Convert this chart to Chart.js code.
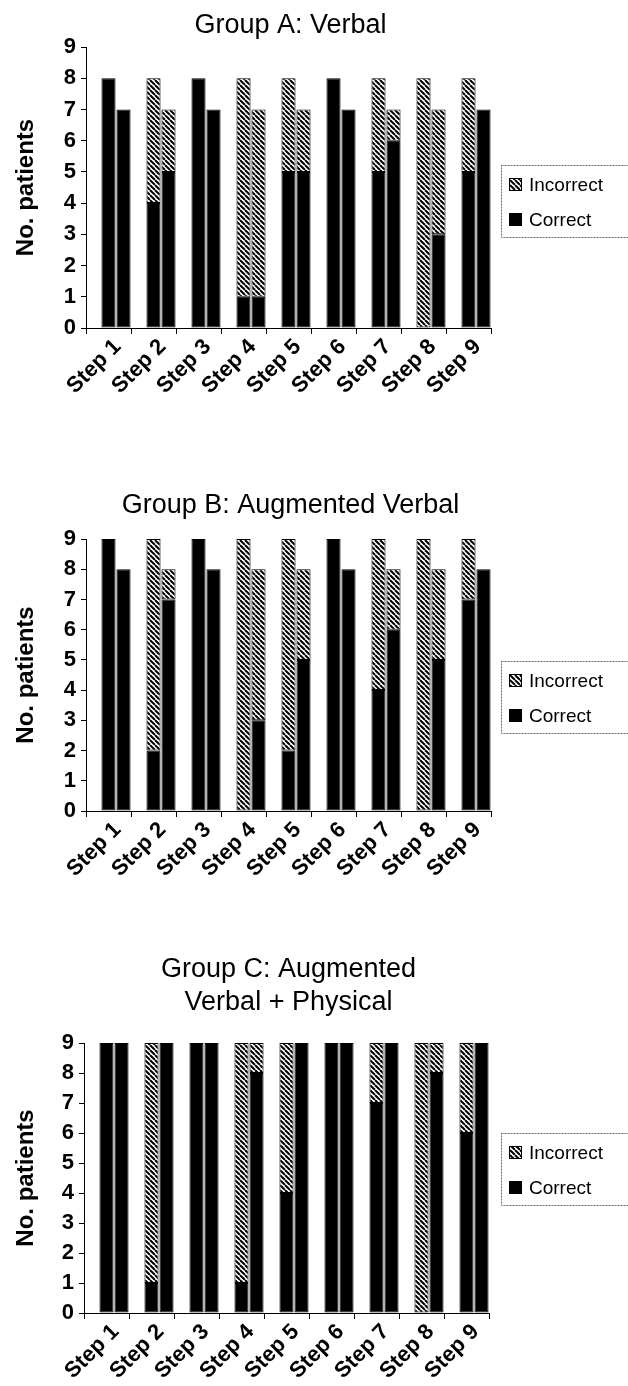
<!DOCTYPE html>
<html>
<head>
<meta charset="utf-8">
<title>Steps by group</title>
<script src="https://cdn.jsdelivr.net/npm/chart.js@4.4.0/dist/chart.umd.min.js"></script>
<style>
  html, body { margin: 0; padding: 0; background: #fff; }
  #page { position: relative; width: 628px; height: 1386px; overflow: hidden; background: #fff; }
  #page canvas { position: absolute; left: 0; }
</style>
</head>
<body>
<div id="page">
  <canvas id="chartA" width="628" height="430" style="top:0px"></canvas>
  <canvas id="chartB" width="628" height="430" style="top:450px"></canvas>
  <canvas id="chartC" width="628" height="466" style="top:920px"></canvas>
</div>
<script>
// Data (first bar / second bar of each step)
const steps = ['Step 1', 'Step 2', 'Step 3', 'Step 4', 'Step 5', 'Step 6', 'Step 7', 'Step 8', 'Step 9'];
const yTicks = [0, 1, 2, 3, 4, 5, 6, 7, 8, 9];

const aCorrect1   = [8, 4, 8, 1, 5, 8, 5, 0, 5];
const aIncorrect1 = [0, 4, 0, 7, 3, 0, 3, 8, 3];
const aCorrect2   = [7, 5, 7, 1, 5, 7, 6, 3, 7];
const aIncorrect2 = [0, 2, 0, 6, 2, 0, 1, 4, 0];

const bCorrect1   = [9, 2, 9, 0, 2, 9, 4, 0, 7];
const bIncorrect1 = [0, 7, 0, 9, 7, 0, 5, 9, 2];
const bCorrect2   = [8, 7, 8, 3, 5, 8, 6, 5, 8];
const bIncorrect2 = [0, 1, 0, 5, 3, 0, 2, 3, 0];

const cCorrect1   = [9, 1, 9, 1, 4, 9, 7, 0, 6];
const cIncorrect1 = [0, 8, 0, 8, 5, 0, 2, 9, 3];
const cCorrect2   = [9, 9, 9, 8, 9, 9, 9, 8, 9];
const cIncorrect2 = [0, 0, 0, 1, 0, 0, 0, 1, 0];

document.addEventListener("DOMContentLoaded", () => {
  Chart.defaults.font.family = '"Liberation Sans", Arial, sans-serif';
  Chart.defaults.color = '#000';

  // diagonal hatch used for "Incorrect"
  function makeHatch() {
    const c = document.createElement('canvas');
    c.width = 5; c.height = 5;
    const g = c.getContext('2d');
    g.fillStyle = '#fff';
    g.fillRect(0, 0, 5, 5);
    g.strokeStyle = '#000';
    g.lineWidth = 2;
    g.beginPath();
    for (const k of [-5, 0, 5]) { g.moveTo(k, 0); g.lineTo(k + 5, 5); }
    g.stroke();
    return g.createPattern(c, 'repeat');
  }
  const hatch = makeHatch();

  // title centred over the plot area
  const areaTitle = {
    id: 'areaTitle',
    afterDraw(chart, args, opts) {
      const ctx = chart.ctx;
      const cx = (chart.chartArea.left + chart.chartArea.right) / 2;
      ctx.save();
      ctx.fillStyle = '#000';
      ctx.font = '27px "Liberation Sans", Arial, sans-serif';
      ctx.textAlign = 'center';
      ctx.textBaseline = 'alphabetic';
      opts.lines.forEach((t, i) => ctx.fillText(t, cx + 2, opts.baselines[i]));
      ctx.restore();
    }
  };

  // boxed legend at the right, Incorrect above Correct
  const boxLegend = {
    id: 'boxLegend',
    afterDraw(chart, args, opts) {
      const ctx = chart.ctx;
      const seen = [];
      chart.data.datasets.forEach(ds => {
        if (ds.label && !seen.find(s => s.label === ds.label)) seen.push(ds);
      });
      seen.reverse();
      ctx.save();
      ctx.strokeStyle = '#666';
      ctx.lineWidth = 1;
      ctx.setLineDash([2, 1]);
      ctx.strokeRect(opts.x + 0.5, opts.y + 0.5, 200, opts.h);
      ctx.setLineDash([]);
      ctx.font = '19px "Liberation Sans", Arial, sans-serif';
      ctx.textBaseline = 'middle';
      seen.forEach((ds, i) => {
        const cy = opts.y + 20 + i * 35;
        ctx.fillStyle = ds.backgroundColor;
        ctx.fillRect(opts.x + 8, cy - 7, 13, 13);
        ctx.strokeStyle = '#000';
        ctx.strokeRect(opts.x + 8.5, cy - 6.5, 12, 12);
        ctx.fillStyle = '#000';
        ctx.fillText(ds.label, opts.x + 28, cy + 1);
      });
      ctx.restore();
    }
  };

  function makeChart(id, lay, correct1, incorrect1, correct2, incorrect2) {
    const bar = { borderColor: '#000', borderWidth: 1, borderSkipped: false, barPercentage: 0.94, categoryPercentage: 1 };
    new Chart(document.getElementById(id), {
      type: 'bar',
      data: {
        labels: steps,
        datasets: [
          // empty slot that pushes each pair to the right of its step, as in the figure
          { ...bar, label: '', data: steps.map(() => null), stack: 'gap', backgroundColor: 'transparent', borderWidth: 0 },
          { ...bar, label: 'Correct', data: correct1, stack: 'first', backgroundColor: '#000' },
          { ...bar, label: 'Incorrect', data: incorrect1, stack: 'first', backgroundColor: hatch },
          { ...bar, label: 'Correct', data: correct2, stack: 'second', backgroundColor: '#000' },
          { ...bar, label: 'Incorrect', data: incorrect2, stack: 'second', backgroundColor: hatch }
        ]
      },
      options: {
        responsive: false,
        animation: false,
        events: [],
        layout: { padding: { top: lay.plotTop - lay.top, right: 628 - lay.right, left: 0, bottom: 0 } },
        plugins: {
          legend: { display: false },
          tooltip: { enabled: false },
          areaTitle: { lines: lay.title, baselines: lay.titleBase.map(b => b - lay.top) },
          boxLegend: { x: 501, y: lay.legendTop - lay.top, h: 72 }
        },
        scales: {
          x: {
            stacked: true,
            afterFit: s => { s.height = lay.top + lay.height - lay.plotBottom; },
            grid: { offset: true, drawOnChartArea: false, drawTicks: true, tickLength: 6, color: '#000' },
            border: { color: '#000', width: 1 },
            ticks: { autoSkip: false, minRotation: 45, maxRotation: 45, padding: 0, labelOffset: 9, color: '#000',
                     font: { size: 22, weight: 'bold' } }
          },
          y: {
            stacked: true,
            min: 0, max: 9,
            afterFit: s => { s.width = lay.left; },
            afterBuildTicks: s => { s.ticks = yTicks.map(v => ({ value: v })); },
            grid: { drawOnChartArea: false, drawTicks: true, tickLength: 5, color: '#000' },
            border: { color: '#000', width: 1 },
            ticks: { padding: 5, color: '#000', font: { size: 22, weight: 'bold' } },
            title: { display: true, text: 'No. patients', color: '#000', padding: { top: 12, bottom: 0 },
                     font: { size: 24, weight: 'bold' } }
          }
        }
      },
      plugins: [areaTitle, boxLegend]
    });
  }

  makeChart('chartA', { top: 0, height: 430, plotTop: 47, plotBottom: 328, left: 86, right: 491,
    title: ['Group A: Verbal'], titleBase: [33], legendTop: 165 },
    aCorrect1, aIncorrect1, aCorrect2, aIncorrect2);

  makeChart('chartB', { top: 450, height: 430, plotTop: 539, plotBottom: 811, left: 86, right: 491,
    title: ['Group B: Augmented Verbal'], titleBase: [513], legendTop: 661 },
    bCorrect1, bIncorrect1, bCorrect2, bIncorrect2);

  makeChart('chartC', { top: 920, height: 466, plotTop: 1043, plotBottom: 1313, left: 84, right: 489,
    title: ['Group C: Augmented', 'Verbal + Physical'], titleBase: [977, 1010], legendTop: 1133 },
    cCorrect1, cIncorrect1, cCorrect2, cIncorrect2);
});
</script>
</body>
</html>
